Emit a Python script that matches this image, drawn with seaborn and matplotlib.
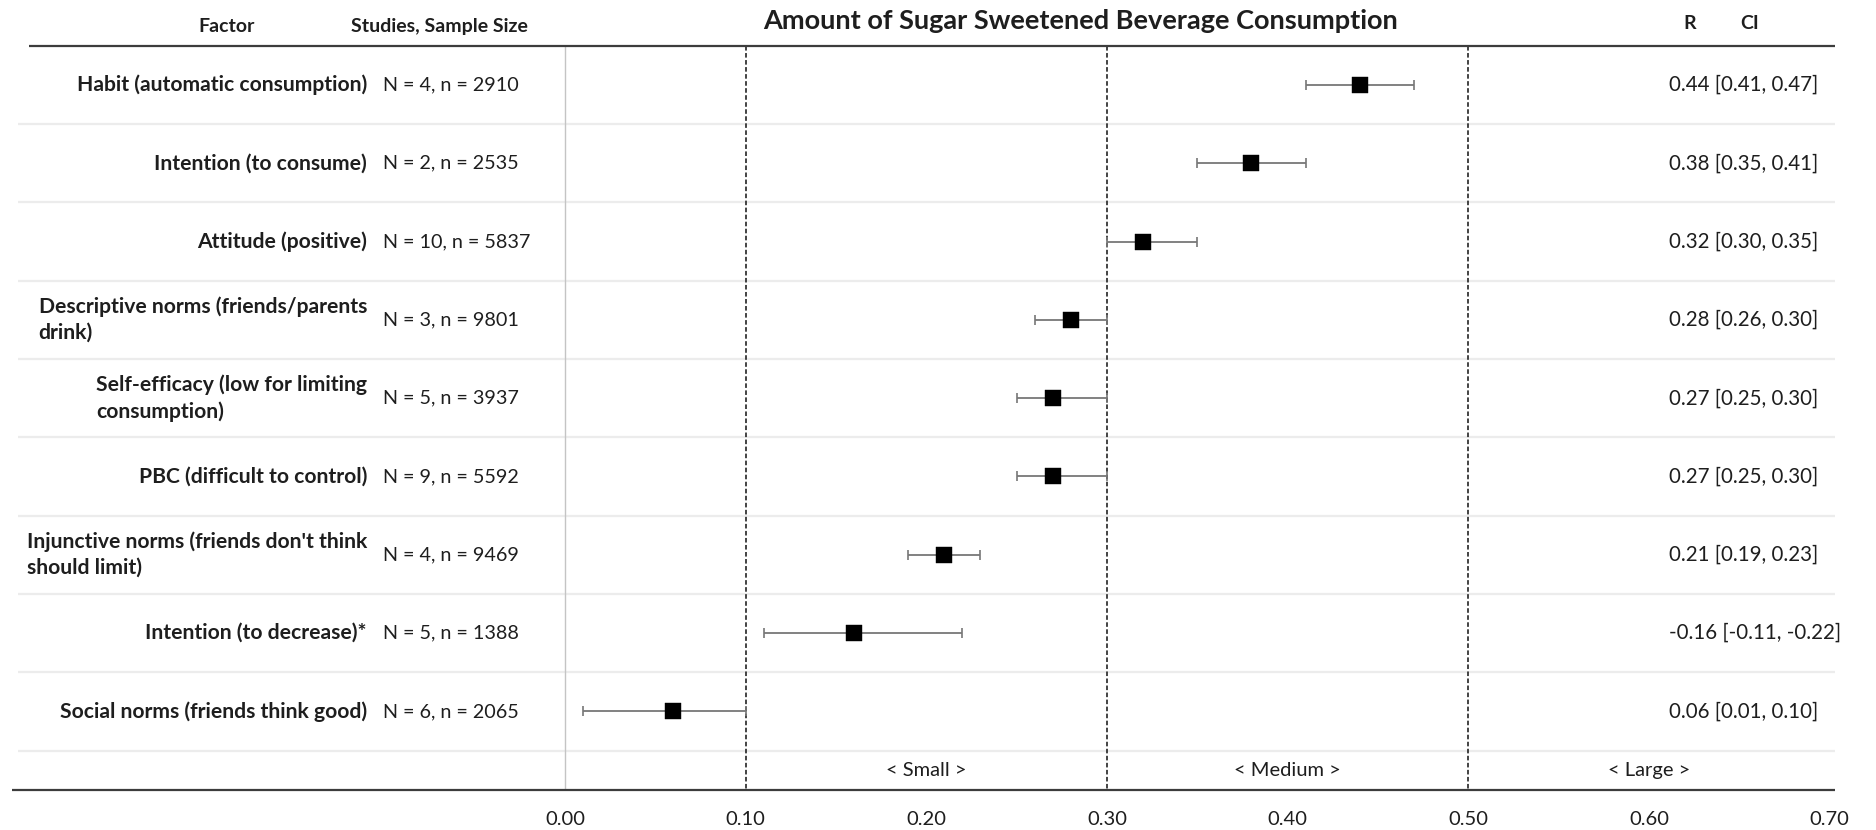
import numpy as np
import pandas as pd
import matplotlib
matplotlib.use("Agg")
import matplotlib.pyplot as plt
import seaborn as sns

# ---- data -------------------------------------------------------------
factors = [
    "Habit (automatic consumption)",
    "Intention (to consume)",
    "Attitude (positive)",
    "Descriptive norms (friends/parents\ndrink)",
    "Self-efficacy (low for limiting\nconsumption)",
    "PBC (difficult to control)",
    "Injunctive norms (friends don't think\nshould limit)",
    "Intention (to decrease)*",
    "Social norms (friends think good)",
]
n_studies = [4, 2, 10, 3, 5, 9, 4, 5, 6]
n_sample = [2910, 2535, 5837, 9801, 3937, 5592, 9469, 1388, 2065]
r_values = [0.44, 0.38, 0.32, 0.28, 0.27, 0.27, 0.21, -0.16, 0.06]
ci_low = [0.41, 0.35, 0.30, 0.26, 0.25, 0.25, 0.19, -0.11, 0.01]
ci_high = [0.47, 0.41, 0.35, 0.30, 0.30, 0.30, 0.23, -0.22, 0.10]
tick_values = [0.00, 0.10, 0.20, 0.30, 0.40, 0.50, 0.60, 0.70]
effect_bands = ["< Small >", "< Medium >", "< Large >"]
effect_centers = [0.20, 0.40, 0.60]
thresholds = [0.10, 0.30, 0.50]

title = "Amount of Sugar Sweetened Beverage Consumption"

df = pd.DataFrame({
    "factor": factors,
    "row": np.arange(len(factors)),
    "r": r_values,
    "lo": ci_low,
    "hi": ci_high,
})
# magnitudes are plotted on the axis
df["r_abs"] = df["r"].abs()
df["lo_abs"] = df[["lo", "hi"]].abs().min(axis=1)
df["hi_abs"] = df[["lo", "hi"]].abs().max(axis=1)

# ---- style ------------------------------------------------------------
sns.set_theme(style="white")
plt.rcParams["font.family"] = ["Lato", "DejaVu Sans"]

TXT = "#1e1e1e"
LABEL = 15.2
BODY = 14.2

fig = plt.figure(figsize=(18.76, 8.30), dpi=100)
ax = fig.add_axes([0, 0, 1, 1])
ax.set_xlim(-0.3127, 0.7257)
ax.set_ylim(9.515, -1.0856)
ax.axis("off")

n_rows = len(factors)
x_right = 0.703

# table rules
ax.hlines(-0.5, -0.2967, x_right, color="#3c3c3c", lw=1.6, zorder=2)
ax.hlines(np.arange(n_rows) + 0.5, -0.3028, x_right, color="#ececec", lw=1.6, zorder=1)
ax.hlines(n_rows, -0.306, x_right, color="#3c3c3c", lw=1.6, zorder=2)

# reference lines
ax.vlines(0.0, -0.5, n_rows, color="#c4c4c4", lw=1.0, zorder=1)
ax.vlines(thresholds, -0.5, n_rows, color="#111111", lw=1.1,
          linestyles=(0, (3, 1.6)), zorder=1)

# confidence intervals and point estimates
ax.errorbar(df["r_abs"], df["row"],
            xerr=[df["r_abs"] - df["lo_abs"], df["hi_abs"] - df["r_abs"]],
            fmt="none", ecolor="#777777", elinewidth=1.3, capsize=3.3,
            capthick=1.2, zorder=3)
sns.scatterplot(data=df, x="r_abs", y="row", marker="s", s=118,
                color="black", edgecolor="black", linewidth=0.3,
                ax=ax, zorder=4, legend=False)

# left and right columns
for i, row in df.iterrows():
    ax.text(-0.1096, row["row"], row["factor"], ha="right", va="center",
            multialignment="left", fontsize=LABEL, fontweight="bold",
            color=TXT, linespacing=1.36)
    ax.text(-0.1007, row["row"], f"N = {n_studies[i]}, n = {n_sample[i]}",
            ha="left", va="center", fontsize=BODY, color=TXT)
    ax.text(0.6111, row["row"],
            f"{row['r']:.2f} [{row['lo']:.2f}, {row['hi']:.2f}]",
            ha="left", va="center", fontsize=14.8, color=TXT)

# headers
ax.text(-0.1871, -0.75, "Factor", ha="center", va="center",
        fontsize=14, fontweight="bold", color=TXT)
ax.text(-0.0697, -0.75, "Studies, Sample Size", ha="center", va="center",
        fontsize=14, fontweight="bold", color=TXT)
ax.text(0.6227, -0.78, "R", ha="center", va="center",
        fontsize=14, fontweight="bold", color=TXT)
ax.text(0.656, -0.78, "CI", ha="center", va="center",
        fontsize=14, fontweight="bold", color=TXT)
ax.text(0.2856, -0.82, title, ha="center", va="center",
        fontsize=19.5, fontweight="bold", color=TXT)

# effect size bands
for lab, cx in zip(effect_bands, effect_centers):
    ax.text(cx, 8.75, lab, ha="center", va="center", fontsize=14.5, color=TXT)

# axis values
for v in tick_values:
    ax.text(v, 9.38, f"{v:.2f}", ha="center", va="center",
            fontsize=14.5, color=TXT)

fig.savefig("out.png", dpi=100, facecolor="white")
